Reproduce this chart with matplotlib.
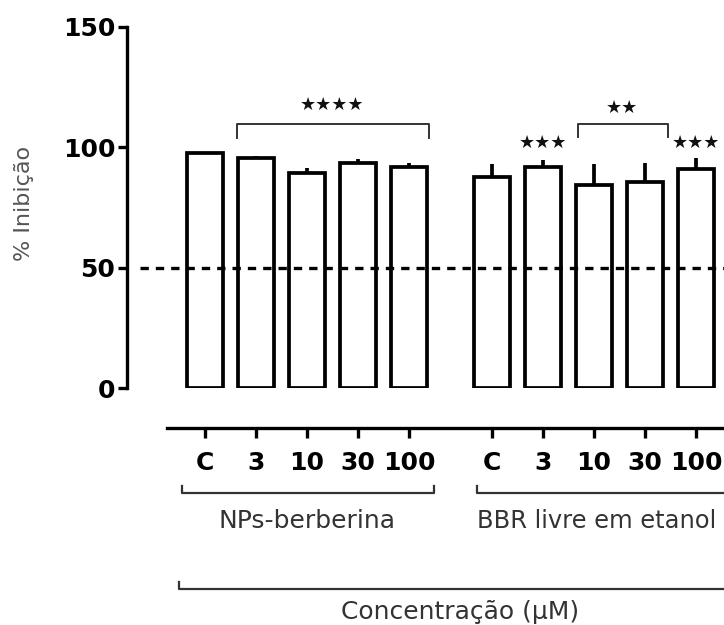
import numpy as np
import matplotlib
matplotlib.use("Agg")
import matplotlib.pyplot as plt

# ---- data ----
doses = ["C", "3", "10", "30", "100"]
groups = ["NPs-berberina", "BBR livre em etanol"]
nps_mean = [97.5, 95.5, 89.5, 93.5, 92.0]
nps_err = [0.0, 0.9, 2.0, 1.6, 1.6]
bbr_mean = [87.5, 91.7, 84.2, 85.8, 90.8]
bbr_err = [5.4, 2.9, 9.0, 7.5, 4.6]
threshold = 50
ylabel = "% Inibição"
xlabel = "Concentração (μM)"

W, H = 724, 625
fig = plt.figure(figsize=(W / 100, H / 100), dpi=100)
plt.rcParams['font.family'] = ['DejaVu Sans']

def px(x0, y0, x1, y1):
    return [x0 / W, 1 - y1 / H, (x1 - x0) / W, (y1 - y0) / H]

ax = fig.add_axes(px(127, 27, 724, 388))

gap = 0.63
x1 = np.arange(len(doses), dtype=float)
x2 = np.arange(len(doses), dtype=float) + len(doses) + gap
bw = 0.70
lw = 2.7

for xs, m, e in [(x1, nps_mean, nps_err), (x2, bbr_mean, bbr_err)]:
    ax.errorbar(xs, m, yerr=[np.zeros(len(e)), e], fmt='none', ecolor='black',
                elinewidth=lw, capsize=0, zorder=1)
    ax.bar(xs, m, width=bw, color='white', edgecolor='black', linewidth=lw, zorder=2)

ax.set_xlim(-1.53, 10.18)
ax.set_ylim(0, 150)

# threshold dashed line
ax.plot([-1.27, 10.5], [threshold, threshold], color='black', lw=2.4,
        dashes=(2.5, 2.1), zorder=3, clip_on=False)

# spines
for s in ['top', 'right']:
    ax.spines[s].set_visible(False)
ax.spines['left'].set_linewidth(2.4)
ax.spines['left'].set_bounds(0, 150)
ax.spines['bottom'].set_linewidth(2.4)
ax.spines['bottom'].set_position(('outward', 40 * 0.72))
ax.spines['bottom'].set_bounds(-0.745, 11)

ax.set_yticks([0, 50, 100, 150])
ax.tick_params(axis='y', length=6.5, width=2.4, pad=2, labelsize=18)
for t in ax.get_yticklabels():
    t.set_fontweight('bold')

ax.set_xticks(np.concatenate([x1, x2]))
ax.set_xticklabels(doses + doses)
ax.tick_params(axis='x', length=7.2, width=2.4, pad=9, labelsize=18)
for t in ax.get_xticklabels():
    t.set_fontweight('bold')

# y label
fig.text(24 / W, 1 - 203 / H, ylabel, rotation=90, ha='center', va='center',
         fontsize=16, color='#555555')

tr = ax.get_xaxis_transform()
def yf(ypix):
    return (388 - ypix) / 361.0

gray = '#333333'
# group brackets
l1, r1 = x1[0] - 0.45, x1[-1] + 0.5
ax.plot([l1, l1, r1, r1], [yf(486), yf(493), yf(493), yf(486)], color=gray, lw=1.6,
        transform=tr, clip_on=False)
ax.text(x1[2], yf(521), groups[0], transform=tr, ha='center', va='center',
        fontsize=18, color=gray)
l2, r2 = x2[0] - 0.30, x2[-1] + 0.6
ax.plot([l2, l2, r2, r2], [yf(486), yf(493), yf(493), yf(486)], color=gray, lw=1.6,
        transform=tr, clip_on=False)
ax.text(x2[0] - 0.29, yf(521), groups[1], transform=tr, ha='left', va='center',
        fontsize=17.4, color=gray)

# overall bracket
l = x1[0] - 0.51
r = x2[-1] + 1.1
ax.plot([l, l, r, r], [yf(582), yf(589), yf(589), yf(582)], color=gray, lw=1.6,
        transform=tr, clip_on=False)
ax.text((l + r) / 2 - 0.1, yf(612), xlabel, transform=tr, ha='center', va='center',
        fontsize=18, color=gray)

# significance
star = "\u2605"
def stars(x, y, n):
    ax.text(x, y, star * n, ha='center', va='center', fontsize=13, color='#111111')

def sig_bracket(xa, xb, ytop, ytick):
    ax.plot([xa, xa, xb, xb], [ytick, ytop, ytop, ytick], color=gray, lw=1.4, clip_on=False)

sig_bracket(x1[1] - 0.37, x1[4] + 0.4, 109.6, 103.8)
stars((x1[1] + x1[4]) / 2 + 0.0, 117.8, 4)
sig_bracket(x2[2] - 0.32, x2[3] + 0.45, 109.6, 104.5)
stars((x2[2] + x2[3]) / 2 + 0.05, 116.3, 2)
stars(x2[1], 101.8, 3)
stars(x2[4], 101.8, 3)

fig.savefig("out.png", dpi=100)
